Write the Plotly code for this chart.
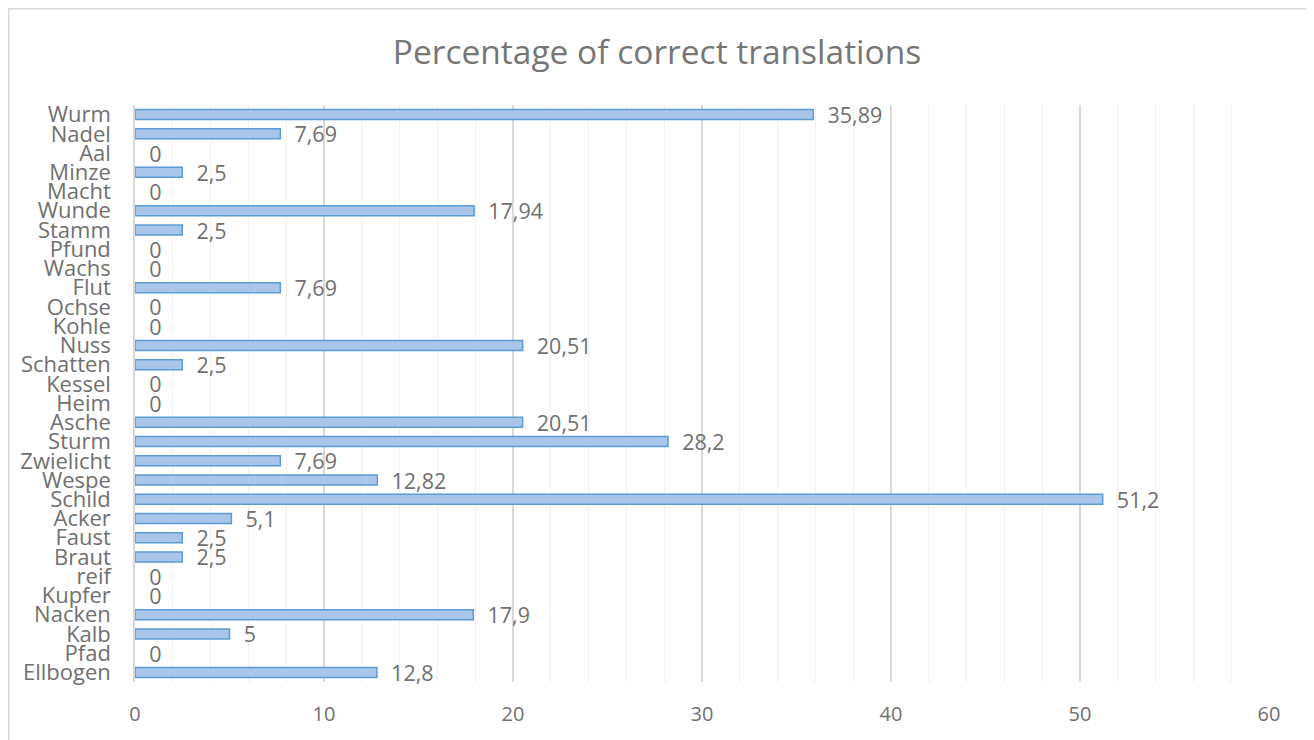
import plotly.graph_objects as go

categories = ["Ellbogen", "Pfad", "Kalb", "Nacken", "Kupfer", "reif", "Braut", "Faust",
              "Acker", "Schild", "Wespe", "Zwielicht", "Sturm", "Asche", "Heim", "Kessel",
              "Schatten", "Nuss", "Kohle", "Ochse", "Flut", "Wachs", "Pfund", "Stamm",
              "Wunde", "Macht", "Minze", "Aal", "Nadel", "Wurm"]
values = [12.8, 0, 5, 17.9, 0, 0, 2.5, 2.5,
          5.1, 51.2, 12.82, 7.69, 28.2, 20.51, 0, 0,
          2.5, 20.51, 0, 0, 7.69, 0, 0, 2.5,
          17.94, 0, 2.5, 0, 7.69, 35.89]
x_ticks = [0, 10, 20, 30, 40, 50, 60]

FONT = "Open Sans"
GRAY = "#707070"

line_widths = [1.5 if v > 0 else 0 for v in values]

fig = go.Figure(go.Bar(
    y=categories, x=values, orientation="h",
    marker=dict(color="#a9c6ea", line=dict(color="#5b9bd5", width=line_widths)),
    texttemplate="\u00a0\u00a0%{x}", textposition="outside",
    textfont=dict(family=FONT, size=21.5, color=GRAY),
    constraintext="none",
    cliponaxis=False,
))

n = len(categories)
OFF = 8  # page body margin
W, H = 1314 - OFF, 740 - OFF
plot_top, plot_bot, plot_l, plot_r = 105 - OFF, 682 - OFF, 135 - OFF, 1269 - OFF
ph = plot_bot - plot_top
pw = plot_r - plot_l

fig.update_layout(
    width=W, height=H,
    margin=dict(l=plot_l, r=W - plot_r, t=plot_top, b=H - plot_bot, autoexpand=False),
    paper_bgcolor="white", plot_bgcolor="white",
    separators=",.",
    bargap=0.48,
    showlegend=False,
    title=dict(text="Percentage of correct translations", x=(657 - OFF) / W, xanchor="center",
               y=1 - (52 - OFF) / H, yanchor="middle",
               font=dict(family=FONT, size=33.5, color="#767676")),
    xaxis=dict(range=[0, 60], tickvals=x_ticks, showgrid=True, gridcolor="#d9d9d9",
               gridwidth=1.5, zeroline=False, showline=False, ticks="", automargin=False,
               minor=dict(dtick=2, showgrid=True, gridcolor="#efefef", gridwidth=1),
               tickfont=dict(family=FONT, size=20, color=GRAY), ticklabelstandoff=18),
    yaxis=dict(type="category", categoryorder="array", categoryarray=categories,
               tickmode="array", tickvals=categories, automargin=False,
               range=[-0.5, n - 0.5], showgrid=False, showline=True, linecolor="#d9d9d9",
               linewidth=1.5, ticks="", ticklabelstandoff=18,
               tickfont=dict(family=FONT, size=22, color=GRAY)),
    shapes=[dict(type="rect", xref="paper", yref="paper",
                 x0=(0.8 - plot_l) / pw, x1=(1302 - plot_l) / pw,
                 y0=(plot_bot - 745) / ph, y1=(plot_bot - 0.8) / ph,
                 line=dict(color="#d9d9d9", width=1.5), layer="below")],
)

fig.write_html("out.html")
